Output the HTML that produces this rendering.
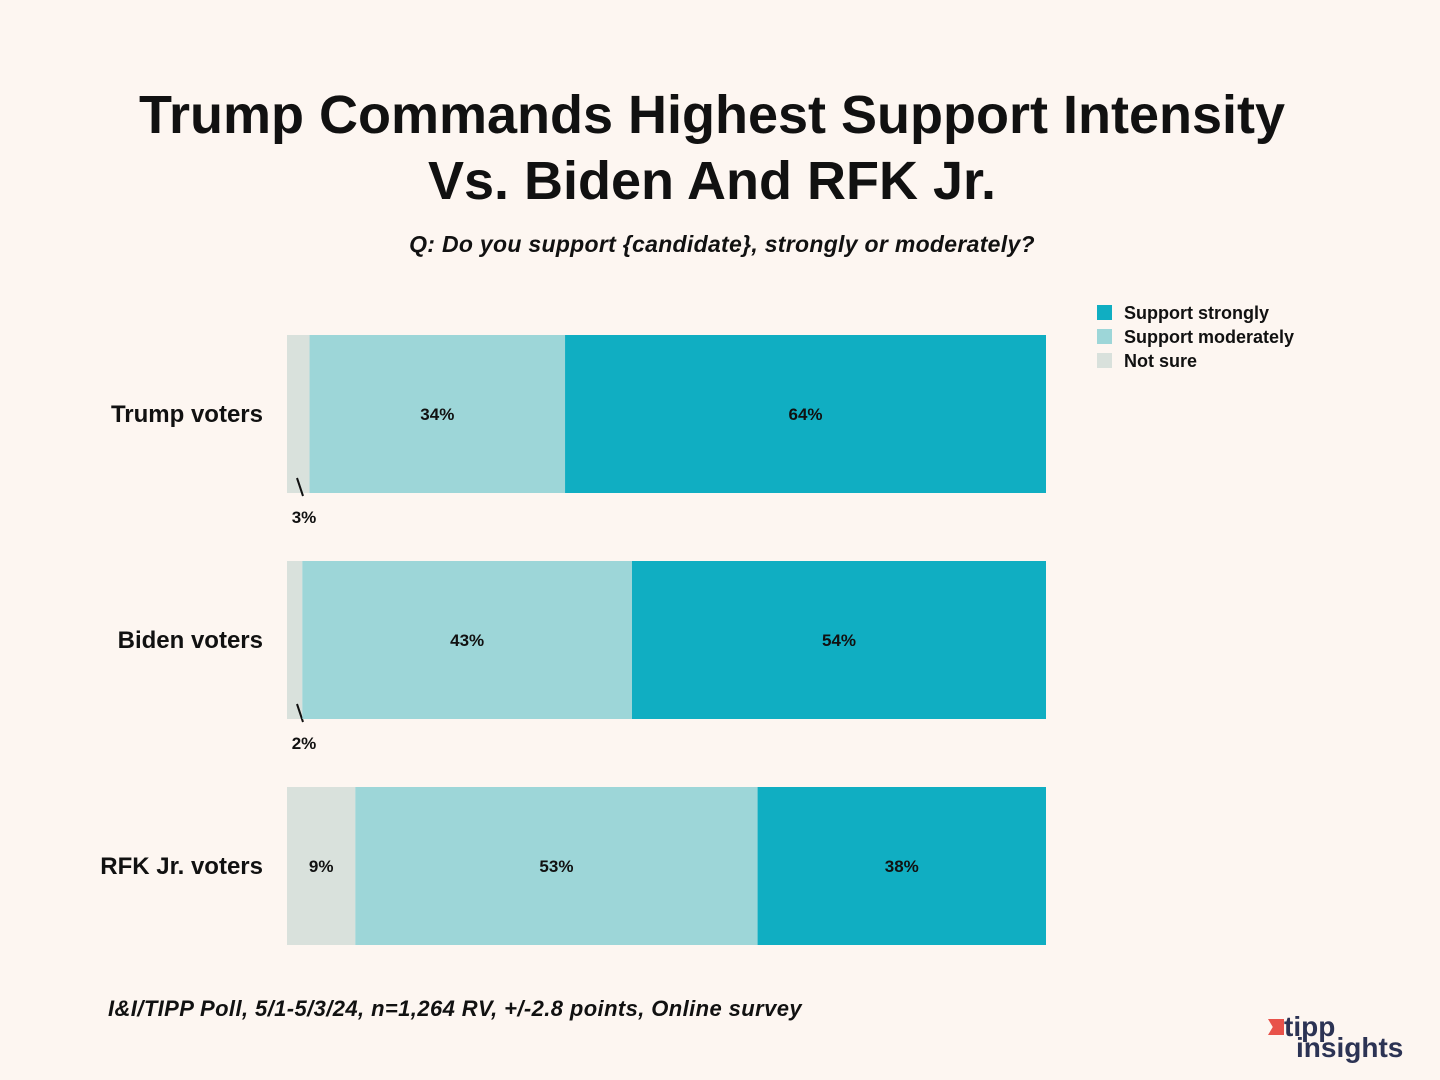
<!DOCTYPE html>
<html><head><meta charset="utf-8"><style>
body{margin:0;background:#fdf6f1;}
#wrap{position:relative;width:1440px;height:1080px;background:#fdf6f1;font-family:"Liberation Sans",sans-serif;color:#111;overflow:hidden}
.t{position:absolute;white-space:nowrap}
</style></head><body>
<div id="wrap">
<div class="t" style="left:0;width:1424px;top:82px;text-align:center;font-size:54px;font-weight:bold;line-height:66px">Trump Commands Highest Support Intensity<br>Vs. Biden And RFK Jr.</div>
<div class="t" style="left:0;width:1444px;top:231px;text-align:center;font-size:23px;font-style:italic;font-weight:bold;letter-spacing:0.3px">Q: Do you support {candidate}, strongly or moderately?</div>
<svg id="chart" width="1440" height="1080" style="position:absolute;left:0;top:0"></svg>
<div class="t" style="left:108px;top:996px;font-size:22px;font-style:italic;font-weight:bold;letter-spacing:0.4px">I&amp;I/TIPP Poll, 5/1-5/3/24, n=1,264 RV, +/-2.8 points, Online survey</div>
<div style="position:absolute;left:1256px;top:1014px;width:160px;height:52px">
<div style="position:absolute;left:12px;top:5px;width:16px;height:16px;background:#e8524a;clip-path:polygon(0 0,100% 0,100% 100%,0 100%,30% 50%)"></div>
<div class="t" style="left:28px;top:-3px;font-size:28px;font-weight:bold;color:#2c3354">tipp</div>
<div class="t" style="left:40px;top:18px;font-size:28px;font-weight:bold;color:#2c3354">insights</div>
</div>
</div>
<script>
const categories=["Trump voters","Biden voters","RFK Jr. voters"];
const notSure=[3,2,9];
const moderate=[34,43,53];
const strong=[64,54,38];
const seriesNames=["Support strongly","Support moderately","Not sure"];
const colors={strong:"#10aec2",moderate:"#9dd6d8",notSure:"#d9e1dc"};
const svg=document.getElementById('chart');
const NS="http://www.w3.org/2000/svg";
const x0=287,W=759,y0=335,step=226,bh=158;
function xs(v,total){return v/total*W;}
function yb(i){return y0+i*step;}
function mk(tag,attrs){const e=document.createElementNS(NS,tag);for(const k in attrs)e.setAttribute(k,attrs[k]);svg.appendChild(e);return e;}
categories.forEach((c,i)=>{
  const tot=notSure[i]+moderate[i]+strong[i];
  const segs=[[notSure[i],colors.notSure,'not-sure'],[moderate[i],colors.moderate,'moderate'],[strong[i],colors.strong,'strong']];
  let x=x0;const y=yb(i);
  const lab=mk('text',{x:263,y:y+bh/2+8,'text-anchor':'end','font-size':24,'font-weight':'bold',fill:'#111','font-family':'Liberation Sans, sans-serif'});
  lab.textContent=c;
  
  
  segs.forEach(([v,col,n])=>{
    const w=xs(v,tot);
    const r=mk('rect',{x:x,y:y,width:w,height:bh,fill:col});
    
    
    if(v>=5){
      const t=mk('text',{x:x+w/2,y:y+bh/2+6,'text-anchor':'middle','font-size':17,'font-weight':'bold',fill:'#111','font-family':'Liberation Sans, sans-serif'});
      t.textContent=v+'%';
      
      
    } else {
      const cx=x0+12;
      const l=mk('line',{x1:cx-2,y1:y+bh-15,x2:cx+4,y2:y+bh+3,stroke:'#111','stroke-width':2});
      
      
      const t=mk('text',{x:x0+17,y:y+bh+30,'text-anchor':'middle','font-size':17,'font-weight':'bold',fill:'#111','font-family':'Liberation Sans, sans-serif'});
      t.textContent=v+'%';
      
      
    }
    x+=w;
  });
});
const lc=[colors.strong,colors.moderate,colors.notSure];
seriesNames.forEach((s,i)=>{
  const r=mk('rect',{x:1097,y:305+i*24,width:15,height:15,fill:lc[i]});
  
  
  const t=mk('text',{x:1124,y:319+i*24,'font-size':18,'font-weight':'bold',fill:'#111','font-family':'Liberation Sans, sans-serif'});
  t.textContent=s;
  
  
});
</script>
</body></html>
